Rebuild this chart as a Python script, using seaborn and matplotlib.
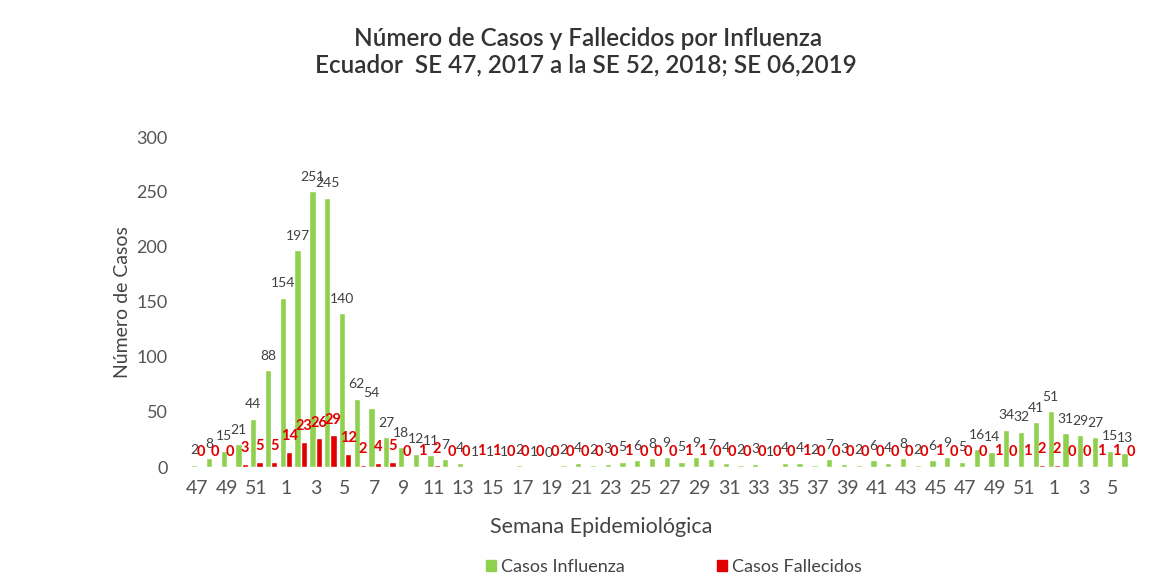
import pandas as pd
import matplotlib.pyplot as plt
import seaborn as sns
from matplotlib.patches import Patch

# Semanas epidemiológicas: SE 47-52 de 2017, SE 1-52 de 2018, SE 1-6 de 2019
semanas = list(range(47, 53)) + list(range(1, 53)) + list(range(1, 7))

casos_influenza = [2, 8, 15, 21, 44, 88,
                   154, 197, 251, 245, 140, 62, 54, 27, 18, 12, 11, 7, 4,
                   1, 1, 1, 2, 1, 0, 2, 4, 2, 3, 5, 6, 8, 9, 5, 9, 7, 4,
                   2, 3, 1, 4, 4, 2, 7, 3, 2, 6, 4, 8, 2, 6, 9, 5, 16, 14,
                   34, 32, 41,
                   51, 31, 29, 27, 15, 13]

casos_fallecidos = [0, 0, 0, 3, 5, 5,
                    14, 23, 26, 29, 12, 2, 4, 5, 0, 1, 2, 0, 0,
                    1, 1, 0, 0, 0, 0, 0, 0, 0, 0, 1, 0, 0, 0, 1, 1, 0, 0,
                    0, 0, 0, 0, 1, 0, 0, 0, 0, 0, 0, 0, 0, 1, 0, 0, 0, 1,
                    0, 1, 2,
                    2, 0, 0, 1, 1, 0]

series = ['Casos Influenza', 'Casos Fallecidos']
colores = ['#8fd14f', '#e00000']

n = len(semanas)
df = pd.DataFrame({
    'idx': list(range(n)) * 2,
    'valor': casos_influenza + casos_fallecidos,
    'serie': [series[0]] * n + [series[1]] * n,
})

sns.set_style('white')
plt.rcParams['font.family'] = ['Lato', 'DejaVu Sans']

fig = plt.figure(figsize=(11.57, 5.87), dpi=100)
ax = fig.add_axes([190 / 1157, 1 - 467 / 587, 945 / 1157, 330 / 587])

sns.barplot(data=df, x='idx', y='valor', hue='serie', hue_order=series,
            palette=colores, width=0.85, ax=ax, legend=False, saturation=1)

# etiquetas de datos
for cont, color, peso, tam in zip(ax.containers, ['#404040', '#e00000'],
                                  ['normal', 'bold'], [10, 10.5]):
    ax.bar_label(cont, labels=[f'{v:.0f}' for v in cont.datavalues],
                 padding=6, color=color, fontsize=tam, fontweight=peso)

ax.set_ylim(0, 300)
ax.set_yticks(range(0, 301, 50))
ax.tick_params(axis='y', labelsize=13, labelcolor='#555555', length=0, pad=16)
ax.set_xticks(range(0, n, 2))
ax.set_xticklabels([str(semanas[i]) for i in range(0, n, 2)])
ax.tick_params(axis='x', labelsize=14, labelcolor='#555555', length=0, pad=9)
ax.set_xlabel('')
ax.set_ylabel('Número de Casos', fontsize=14, color='#444444', labelpad=4)
for s in ax.spines.values():
    s.set_visible(False)

fig.text(601 / 1157, 1 - 527 / 587, 'Semana Epidemiológica', ha='center',
         va='center', fontsize=15.5, color='#444444')

fig.text(588 / 1157, 1 - 38 / 587, 'Número de Casos y Fallecidos por Influenza',
         ha='center', va='center', fontsize=17.5, fontweight='semibold', color='#333333')
fig.text(586 / 1157, 1 - 65 / 587, 'Ecuador  SE 47, 2017 a la SE 52, 2018; SE 06,2019',
         ha='center', va='center', fontsize=17.5, fontweight='semibold', color='#333333')

handles = [Patch(color=c, label=s) for c, s in zip(colores, series)]
fig.legend(handles=handles, loc='center', bbox_to_anchor=(674 / 1157, 1 - 567 / 587),
           ncol=2, frameon=False, fontsize=13, handlelength=0.55, handleheight=0.55,
           handletextpad=0.3, columnspacing=5.1, labelcolor='#444444')

fig.savefig('out.png', dpi=100)
plt.close(fig)
